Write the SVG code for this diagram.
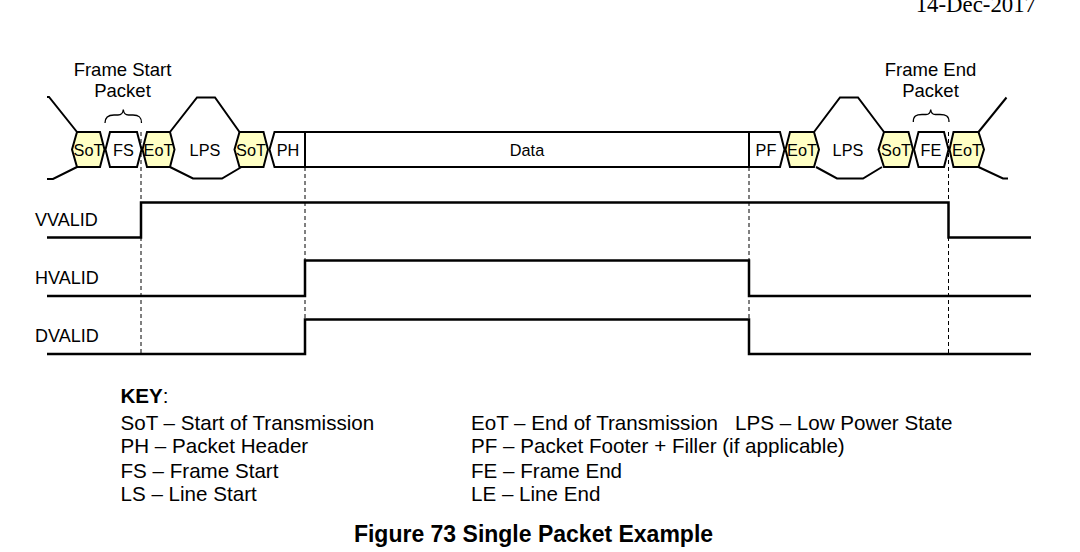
<svg xmlns="http://www.w3.org/2000/svg" width="1080" height="552" viewBox="0 0 1080 552">
<style>
  text { font-family: "Liberation Sans", Arial, sans-serif; fill: #000; }
  .lbl { font-size: 16.3px; text-anchor: middle; }
  .hdr { font-size: 18.5px; text-anchor: middle; }
  .sig { font-size: 18px; }
  .key { font-size: 20.6px; }
  .hex { stroke: #000; stroke-width: 2; stroke-linejoin: miter; }
  .y { fill: #FFFFC4; }
  .w { fill: #FFFFFF; }
  .ln { fill: none; stroke: #000; stroke-width: 2; }
  .wave { fill: none; stroke: #000; stroke-width: 2.5; }
  .dash { fill: none; stroke: #000; stroke-width: 1; stroke-dasharray: 4 3; }
</style>
<rect width="1080" height="552" fill="#fff"/>
<text x="1036" y="11.5" font-size="22.8" text-anchor="end" style="font-family:'Liberation Serif',serif">14-Dec-2017</text>

<g id="connectors">
  <path class="ln" d="M47,97 L49,97 L77,132"/>
  <path class="ln" d="M47,179 L53,179 L77,167"/>
  <path class="ln" d="M170,132 L197,97.5 L215,97.5 L239.5,132"/>
  <path class="ln" d="M170,167 L193,178.5 L222,178.5 L241.5,167"/>
  <path class="ln" d="M814,132 L840,97.5 L858,97.5 L884,132"/>
  <path class="ln" d="M816,167 L837,178.5 L863,178.5 L882,167"/>
  <path class="ln" d="M978.5,132 L1006.5,97.5"/>
  <path class="ln" d="M978.5,167 L1003,178.5 L1008,178.5"/>
  <path class="dash" d="M141,132 V354 M305,167 V354 M749,167 V354 M948.5,132 V354"/>
</g>

<g id="sot1"><polygon class="hex y" points="72,149.5 77,132 100,132 104.5,149.5 100,167 77,167"/><text class="lbl" x="88.5" y="156">SoT</text></g>
<g id="fs"><polygon class="hex w" points="105.5,149.5 110,132 137,132 141.5,149.5 137,167 110,167"/><text class="lbl" x="123.5" y="156">FS</text></g>
<g id="eot1"><polygon class="hex y" points="142.5,149.5 147,132 170,132 174.5,149.5 170,167 147,167"/><text class="lbl" x="158.5" y="156">EoT</text></g>
<g id="lps1"><text class="lbl" x="205" y="156">LPS</text></g>
<g id="sot2"><polygon class="hex y" points="234.5,149.5 239.5,132 263.5,132 268,149.5 263.5,167 239.5,167"/><text class="lbl" x="251" y="156">SoT</text></g>
<g id="ph"><polygon class="hex w" points="269.5,149.5 274.5,132 305,132 305,167 274.5,167"/><text class="lbl" x="288" y="156">PH</text></g>
<g id="data"><rect class="hex w" x="305" y="132" width="444" height="35"/><text class="lbl" x="527" y="156">Data</text></g>
<g id="pf"><polygon class="hex w" points="749,132 780,132 784.5,149.5 780,167 749,167"/><text class="lbl" x="766" y="156">PF</text></g>
<g id="eot2"><polygon class="hex y" points="785.5,149.5 790,132 814,132 819,149.5 814,167 790,167"/><text class="lbl" x="802" y="156">EoT</text></g>
<g id="lps2"><text class="lbl" x="848" y="156">LPS</text></g>
<g id="sot3"><polygon class="hex y" points="878.5,149.5 884,132 908.5,132 913,149.5 908.5,167 884,167"/><text class="lbl" x="896" y="156">SoT</text></g>
<g id="fe"><polygon class="hex w" points="914,149.5 918.5,132 944,132 948.5,149.5 944,167 918.5,167"/><text class="lbl" x="931" y="156">FE</text></g>
<g id="eot3"><polygon class="hex y" points="949.5,149.5 953.5,132 978.5,132 984,149.5 978.5,167 953.5,167"/><text class="lbl" x="967" y="156">EoT</text></g>

<g id="frame-start">
  <text class="hdr" x="122.5" y="76">Frame Start</text>
  <text class="hdr" x="122.5" y="96.5">Packet</text>
  <path fill="none" stroke="#000" stroke-width="1.3" d="M105,123 C105,117 108,115 114,115 L118,115 C121.5,115 123,113 123.3,109.5 C123.6,113 125,115 128.5,115 L133,115 C139,115 141.5,117 141.5,123"/>
</g>
<g id="frame-end">
  <text class="hdr" x="930.5" y="76">Frame End</text>
  <text class="hdr" x="930.5" y="96.5">Packet</text>
  <path fill="none" stroke="#000" stroke-width="1.3" d="M913.3,122 C913.3,116 916,114.5 922,114.5 L926,114.5 C929,114.5 930.4,112.5 930.7,109.5 C931,112.5 932.4,114.5 935.4,114.5 L940,114.5 C946,114.5 949,116 949,122"/>
</g>

<g id="vvalid">
  <text class="sig" x="35" y="226">VVALID</text>
  <path class="wave" d="M47,237.5 H141 V202.5 H948.5 V237.5 H1031"/>
</g>
<g id="hvalid">
  <text class="sig" x="35" y="284">HVALID</text>
  <path class="wave" d="M47,296 H305 V260.5 H749 V296 H1031"/>
</g>
<g id="dvalid">
  <text class="sig" x="35" y="341.5">DVALID</text>
  <path class="wave" d="M47,354 H305 V319.5 H749 V354 H1031"/>
</g>

<g id="key">
  <text class="key" x="120.5" y="403"><tspan font-weight="bold">KEY</tspan>:</text>
  <text class="key" x="120.5" y="429.5">SoT – Start of Transmission</text>
  <text class="key" x="120.5" y="453">PH – Packet Header</text>
  <text class="key" x="120.5" y="477.5">FS – Frame Start</text>
  <text class="key" x="120.5" y="501.2">LS – Line Start</text>
  <text class="key" x="471" y="429.5">EoT – End of Transmission</text>
  <text class="key" x="735" y="429.5">LPS – Low Power State</text>
  <text class="key" x="471" y="453">PF – Packet Footer + Filler (if applicable)</text>
  <text class="key" x="471" y="477.5">FE – Frame End</text>
  <text class="key" x="471" y="501.2">LE – Line End</text>
</g>

<text x="533.5" y="542" font-size="23" font-weight="bold" text-anchor="middle">Figure 73 Single Packet Example</text>
</svg>
